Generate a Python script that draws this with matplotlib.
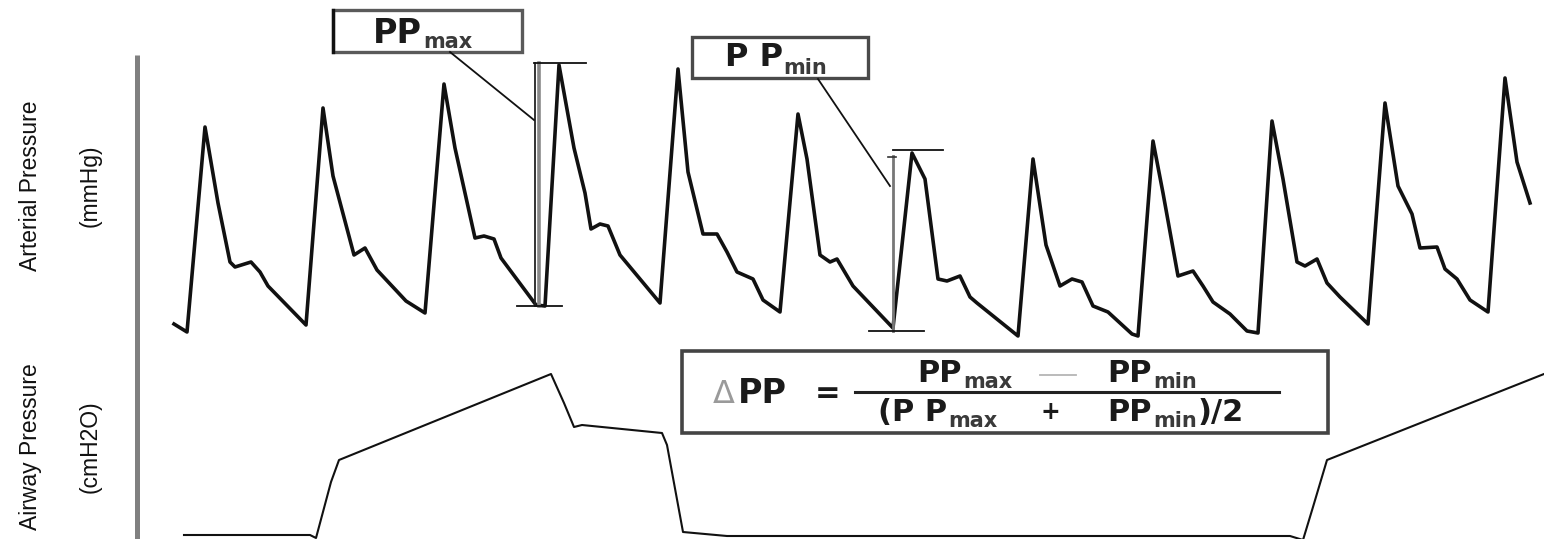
import matplotlib
matplotlib.use('Agg')
import matplotlib.pyplot as plt
import matplotlib.patches as patches
import matplotlib.font_manager as fm

# arterial pressure trace (time, pressure), screen units
art_t = [174, 187, 205, 218, 230, 235, 251, 260, 268, 306, 323,
         333, 354, 365, 377, 406, 425, 444,
         455, 475, 484, 494, 501, 536, 545, 559,
         574, 585, 591, 600, 608, 620, 660, 678,
         688, 703, 717, 727, 737, 753, 763, 780, 798,
         807, 820, 830, 837, 853, 893, 912,
         925, 938, 947, 960, 970, 977, 1018, 1033,
         1046, 1060, 1072, 1082, 1093, 1108, 1132, 1138, 1153,
         1163, 1178, 1193, 1203, 1213, 1230, 1247, 1258, 1272,
         1283, 1297, 1305, 1317, 1327, 1340, 1368, 1385,
         1398, 1412, 1420, 1437, 1445, 1457, 1470, 1488, 1505,
         1517, 1530]
art_p = [324, 332, 127, 203, 262, 267, 262, 272, 286, 325, 108,
         176, 255, 248, 270, 301, 313, 84,
         148, 238, 236, 239, 258, 305, 306, 65,
         148, 193, 229, 224, 226, 255, 303, 69,
         172, 234, 234, 252, 272, 279, 300, 312, 114,
         159, 255, 262, 259, 286, 328, 153,
         179, 279, 281, 276, 297, 303, 336, 159,
         245, 286, 279, 282, 306, 312, 334, 336, 141,
         193, 276, 271, 286, 302, 314, 331, 333, 121,
         179, 262, 266, 259, 283, 297, 324, 103,
         186, 214, 248, 247, 269, 279, 300, 312, 78,
         162, 203]

# airway pressure trace
air_t = [184, 310, 316, 331, 339, 551, 564, 574, 582, 662, 667, 683, 727,
         1290, 1303, 1313, 1327, 1544]
air_p = [535, 535, 538, 482, 460, 374, 403, 427, 425, 433, 445, 532, 536,
         536, 540, 507, 460, 374]

# pulse pressure bars: x, top, bottom
pp_names = ['max', 'min']
pp_x = [538, 893]
pp_top = [63, 150]
pp_bottom = [306, 331]

y_labels = ['Arterial Pressure', 'Airway Pressure']
y_units = ['(mmHg)', '(cmH2O)']

names = {f.name for f in fm.fontManager.ttflist}
if 'Liberation Sans Narrow' in names:
    lab_font, lab_size = 'Liberation Sans Narrow', 20
else:
    lab_font, lab_size = 'Liberation Sans', 16.5

fig = plt.figure(figsize=(15.44, 5.39), dpi=100)
ax = fig.add_axes([0, 0, 1, 1])
ax.set_xlim(0, 1544)
ax.set_ylim(539, 0)
ax.axis('off')
rend = fig.canvas.get_renderer()

# waveforms
ax.plot(art_t, art_p, color='#111111', lw=2.6, solid_joinstyle='round')
ax.plot(air_t, air_p, color='#111111', lw=1.5)

# left axis line
ax.plot([137, 137], [55, 539], color='#808080', lw=3.6, solid_capstyle='butt')

# side labels
for yc, lab, unit in zip([186, 447], y_labels, y_units):
    ax.text(31, yc, lab, rotation=90, ha='center', va='center',
            family=lab_font, fontsize=lab_size, color='#111111')
    ax.text(90, yc, unit, rotation=90, ha='center', va='center',
            family=lab_font, fontsize=lab_size, color='#111111')

# PPmax bar
ax.plot([pp_x[0] - 3] * 2, [pp_top[0], pp_bottom[0]], color='#222222', lw=1.3)
ax.plot([pp_x[0] + 1] * 2, [pp_top[0], pp_bottom[0]], color='#888888', lw=2.6)
ax.plot([pp_x[0] - 4, pp_x[0] + 48], [pp_top[0]] * 2, color='#111111', lw=1.3)
ax.plot([pp_x[0] - 21, pp_x[0] + 24], [pp_bottom[0]] * 2, color='#111111', lw=1.3)

# PPmin bar
ax.plot([pp_x[1]] * 2, [pp_top[1] + 6, pp_bottom[1]], color='#777777', lw=2.0)
ax.plot([pp_x[1] - 5, pp_x[1] + 3], [pp_top[1] + 7] * 2, color='#333333', lw=1.2)
ax.plot([pp_x[1], pp_x[1] + 50], [pp_top[1]] * 2, color='#111111', lw=1.3)
ax.plot([pp_x[1] - 24, pp_x[1] + 31], [pp_bottom[1]] * 2, color='#111111', lw=1.3)

# label boxes with leaders
ax.add_patch(patches.Rectangle((333, 10), 189, 42, fill=False,
                               edgecolor='#5a5a5a', lw=2.4))
ax.plot([333, 333], [10, 52], color='#111111', lw=2.4)
ax.add_patch(patches.Rectangle((692, 37), 176, 41, fill=False,
                               edgecolor='#4a4a4a', lw=2.4))
ax.plot([450, 534], [52, 120], color='#111111', lw=1.3)
ax.plot([818, 890], [79, 186], color='#111111', lw=1.3)

big = dict(family='DejaVu Sans', weight='bold', color='#1a1a1a', ha='left', va='baseline')
sub = dict(family='DejaVu Sans', weight='bold', color='#3a3a3a', ha='left', va='baseline')


def group(xc, yb, parts, gap=1):
    # parts: (text, size, drop, style); laid out left to right, centred on xc
    arts = []
    for s, size, drop, style in parts:
        arts.append(ax.text(0, yb + drop, s, fontsize=size, **style))
    widths = [a.get_window_extent(rend).width for a in arts]
    x = xc - (sum(widths) + gap * (len(arts) - 1)) / 2
    for a, w in zip(arts, widths):
        a.set_x(x)
        x += w + gap


group(423, 43, [('PP', 24, 0, big), (pp_names[0], 15, 5, sub)])
group(776, 66, [('P P', 23, 0, big), (pp_names[1], 15, 8, sub)])

# formula box
ax.add_patch(patches.Rectangle((682, 351), 646, 82, fill=False,
                               edgecolor='#444444', lw=2.6))
gray = dict(family='DejaVu Sans', color='#9a9a9a', ha='left', va='baseline')
group(750, 403, [('\u0394', 23, 0, gray), ('PP', 24, 0, big)], gap=3)
ax.text(828, 393, '=', fontsize=22, family='DejaVu Sans', weight='bold',
        color='#1a1a1a', ha='center', va='center')
ax.plot([855, 1279], [392, 392], color='#222222', lw=2.2)

group(965, 382, [('PP', 22, 0, big), ('max', 15, 6, sub)])
ax.plot([1040, 1076], [375, 375], color='#b5b5b5', lw=1.3)
group(1152, 382, [('PP', 22, 0, big), ('min', 15, 6, sub)])

group(938, 421, [('(P P', 22, 0, big), ('max', 15, 6, sub)])
ax.text(1050, 412, '+', fontsize=17, family='DejaVu Sans', weight='bold',
        color='#1a1a1a', ha='center', va='center')
group(1176, 421, [('PP', 22, 0, big), ('min', 15, 6, sub), (')/2', 22, 0, big)])

fig.savefig('out.png', dpi=100)
